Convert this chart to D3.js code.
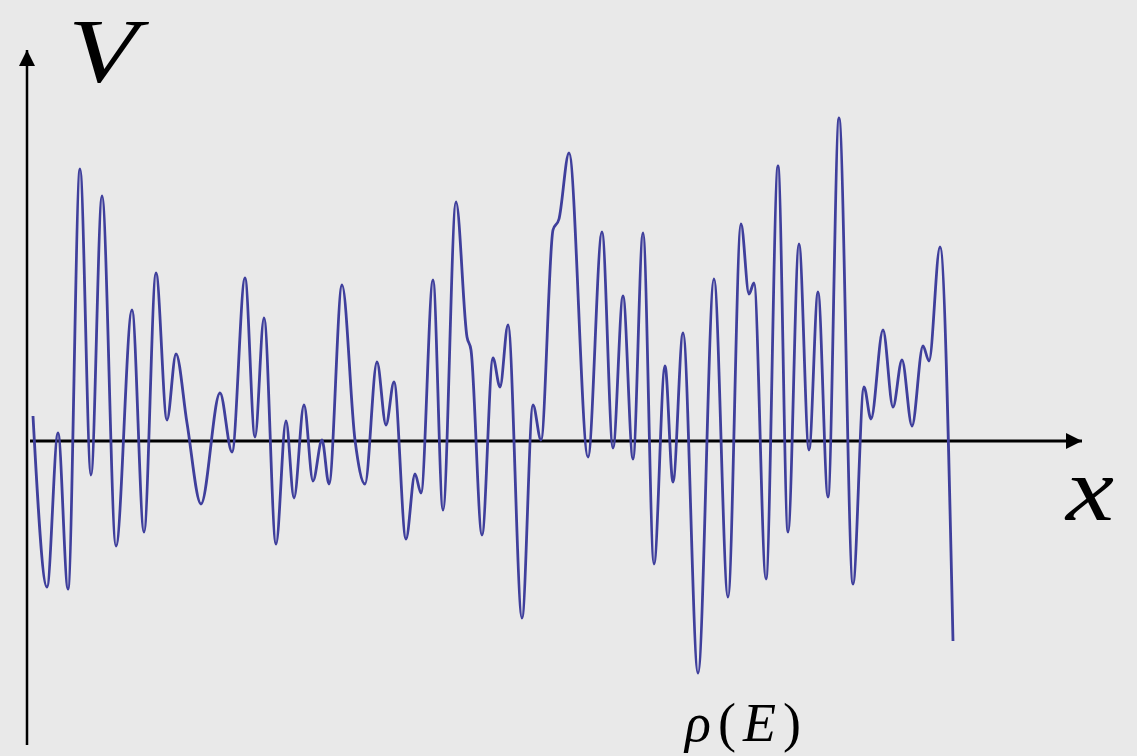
<!DOCTYPE html>
<html>
<head>
<meta charset="utf-8">
<script src="https://cdn.jsdelivr.net/npm/d3@7"></script>
<style>
  html, body { margin: 0; padding: 0; background: #e9e9e9; }
  svg { display: block; }
</style>
</head>
<body>
<script>
// Random potential V(x): positions of the turning points and shoulders of the profile
const xPos = [3, 17, 28, 38, 50, 61, 72, 86, 102, 114, 126, 137, 146, 157, 171, 190, 202, 215, 225, 234,
  246, 256, 264, 274, 283, 292, 299, 312, 325, 335, 347, 356, 364, 376, 385, 391, 403, 413, 426, 437,
  441, 452, 463, 470, 478, 492, 503, 511, 523, 529, 539, 558, 572, 583, 593, 603, 613, 624, 635, 643,
  653, 668, 684, 698, 711, 719, 724, 736, 748, 758, 769, 779, 788, 798, 809, 823, 834, 841, 853, 863,
  872, 882, 893, 899, 910, 923];
// Potential value at each of those positions
const vVal = [0.25, -1.46, 0.08, -1.48, 2.72, -0.34, 2.45, -1.05, 1.31, -0.91, 1.68, 0.21, 0.87, 0.18, -0.63, 0.48, -0.11, 1.63, 0.04, 1.23,
  -1.03, 0.20, -0.57, 0.36, -0.40, 0.01, -0.43, 1.56, 0.01, -0.43, 0.79, 0.16, 0.59, -0.98, -0.33, -0.52, 1.61, -0.69, 2.39, 1.04,
  0.91, -0.94, 0.83, 0.54, 1.16, -1.77, 0.36, 0.01, 2.11, 2.22, 2.88, -0.16, 2.09, -0.07, 1.45, -0.18, 2.08, -1.23, 0.75, -0.41,
  1.08, -2.32, 1.62, -1.56, 2.17, 1.47, 1.58, -1.38, 2.75, -0.91, 1.97, -0.09, 1.49, -0.56, 3.23, -1.43, 0.54, 0.22, 1.11, 0.34,
  0.81, 0.15, 0.95, 0.80, 1.94, -2.00];

const yLabel = "V";
const xLabel = "x";

const W = 1137, H = 756;
const svg = d3.select("body").append("svg").attr("width", W).attr("height", H);

svg.append("rect").attr("width", W).attr("height", H).attr("fill", "#e9e9e9");

const x = d3.scaleLinear().domain([0, 1000]).range([30, 1030]);
const y = d3.scaleLinear().domain([-3, 3]).range([741, 141]);

const data = xPos.map((d, i) => ({ x: d, v: vVal[i] }));

// axes with arrowheads
const defs = svg.append("defs");
defs.append("marker")
  .attr("id", "arrow")
  .attr("viewBox", "0 0 10 10")
  .attr("refX", 10).attr("refY", 5)
  .attr("markerUnits", "userSpaceOnUse")
  .attr("markerWidth", 17).attr("markerHeight", 16)
  .attr("orient", "auto")
  .append("path").attr("d", "M0,0 L10,5 L0,10 Z").attr("fill", "#000");

const x0 = 27, y0 = y(0);

svg.append("line")
  .attr("x1", x0).attr("y1", 745).attr("x2", x0).attr("y2", 50)
  .attr("stroke", "#000").attr("stroke-width", 2.5)
  .attr("marker-end", "url(#arrow)");

svg.append("line")
  .attr("x1", 30).attr("y1", y0).attr("x2", 1082).attr("y2", y0)
  .attr("stroke", "#000").attr("stroke-width", 3)
  .attr("marker-end", "url(#arrow)");

// potential curve
const line = d3.line()
  .x(d => x(d.x))
  .y(d => y(d.v))
  .curve(d3.curveMonotoneX);

svg.append("path")
  .datum(data)
  .attr("d", line)
  .attr("fill", "none")
  .attr("stroke", "#3f3f9c")
  .attr("stroke-width", 2.8)
  .attr("stroke-linejoin", "round");

// labels
const serif = "'Liberation Serif', 'DejaVu Serif', serif";

svg.append("text")
  .attr("x", 68).attr("y", 82)
  .attr("font-family", serif).attr("font-style", "italic")
  .attr("font-size", 90)
  .attr("textLength", 70)
  .attr("lengthAdjust", "spacingAndGlyphs")
  .text(yLabel);

svg.append("text")
  .attr("x", 1066).attr("y", 520)
  .attr("font-family", serif).attr("font-style", "italic")
  .attr("font-size", 92)
  .attr("textLength", 48)
  .attr("lengthAdjust", "spacingAndGlyphs")
  .text(xLabel);

const rho = svg.append("text")
  .attr("x", 685).attr("y", 741)
  .attr("font-family", serif)
  .attr("font-size", 54)
  .attr("textLength", 116)
  .attr("lengthAdjust", "spacing");
rho.append("tspan").attr("font-style", "italic").text("ρ");
rho.append("tspan").text("(");
rho.append("tspan").attr("font-style", "italic").text("E");
rho.append("tspan").text(")");
</script>
</body>
</html>
